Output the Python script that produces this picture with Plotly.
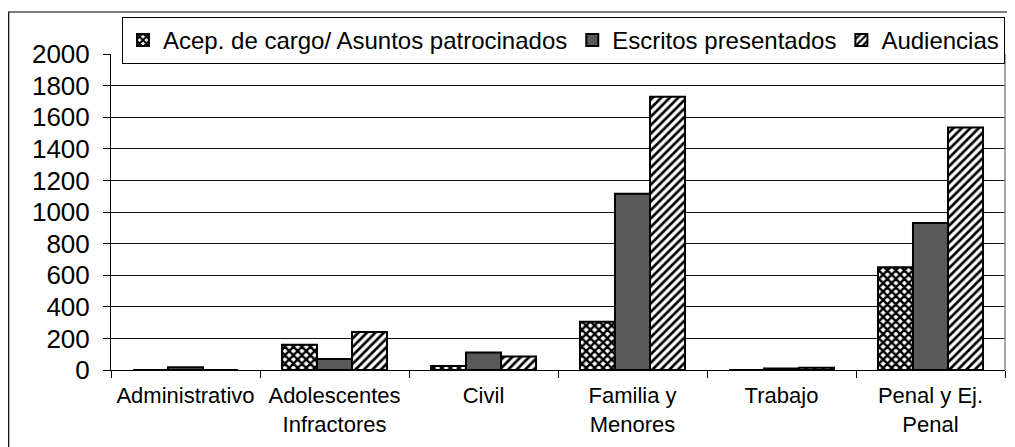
import plotly.graph_objects as go

categories = ["Administrativo", "Adolescentes<br>Infractores", "Civil", "Familia y<br>Menores", "Trabajo", "Penal y Ej.<br>Penal"]
acep = [0, 160, 25, 305, 0, 650]
escritos = [18, 70, 110, 1115, 10, 930]
audiencias = [0, 240, 85, 1730, 15, 1535]
series_names = ["Acep. de cargo/ Asuntos patrocinados", "Escritos presentados", "Audiencias"]
y_ticks = [0, 200, 400, 600, 800, 1000, 1200, 1400, 1600, 1800, 2000]

# the page body has an 8px margin, so the figure sits at (8, 8) in the window
OFF = 8
W, H = 1015 - OFF, 447 - OFF
L, R, T, B = 111 - OFF, W - (1005 - OFF), 4, H - (370 - OFF)
pw = W - L - R
ph = H - T - B
plot_top = 54 - OFF  # pixel row of the 2000 line

def px_x(p):
    return (p - OFF - L) / pw

def px_y(p):
    return (H - B - (p - OFF)) / ph

line = dict(color="black", width=2)
fig = go.Figure()
fig.add_trace(go.Bar(
    x=categories, y=acep, name=series_names[0],
    marker=dict(color="white", line=line,
                pattern=dict(shape="x", fgcolor="black", bgcolor="white", size=6, solidity=0.65)),
))
fig.add_trace(go.Bar(
    x=categories, y=escritos, name=series_names[1],
    marker=dict(color="#595959", line=line),
))
fig.add_trace(go.Bar(
    x=categories, y=audiencias, name=series_names[2],
    marker=dict(color="white", line=line,
                pattern=dict(shape="/", fgcolor="black", bgcolor="white", size=6, solidity=0.45)),
))

font = "Liberation Sans, Arial, sans-serif"
fig.update_layout(
    template="none",
    width=W, height=H,
    margin=dict(l=L, r=R, t=T, b=B, pad=0),
    paper_bgcolor="white", plot_bgcolor="white",
    barmode="group", bargap=0.295, bargroupgap=0,
    font=dict(family=font, size=22, color="black"),
    showlegend=True,
    legend=dict(orientation="h", x=px_x(122), y=px_y(17), xanchor="left", yanchor="top",
                bgcolor="white", bordercolor="black", borderwidth=1,
                font=dict(size=24), itemwidth=30, tracegroupgap=0,
                traceorder="normal"),
    xaxis=dict(showgrid=False, showline=True, linecolor="black", linewidth=1,
               ticks="outside", ticklen=7, tickcolor="black", tickson="boundaries",
               tickfont=dict(size=22), ticklabelstandoff=6, automargin=False),
    yaxis=dict(range=[0, 2000], tickvals=y_ticks, showgrid=True, gridcolor="#111",
               gridwidth=1, showline=True, linecolor="black", linewidth=1,
               ticks="outside", ticklen=7, tickcolor="black", zeroline=False,
               tickfont=dict(size=26), ticklabelstandoff=8, automargin=False,
               domain=[0, px_y(54)]),
    shapes=[
        dict(type="rect", xref="paper", yref="paper", x0=px_x(8.7), x1=px_x(1012),
             y0=px_y(470), y1=px_y(12), line=dict(color="black", width=1.2), layer="below"),
        dict(type="line", xref="paper", yref="paper", x0=1, x1=1, y0=0, y1=px_y(54),
             line=dict(color="#888", width=1.5)),
    ],
)

fig.write_html("out.html")
